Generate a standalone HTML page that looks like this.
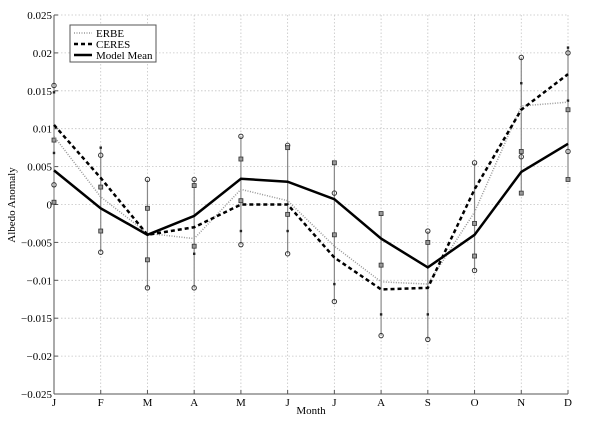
<!DOCTYPE html>
<html><head><meta charset="utf-8"><style>
body{margin:0;background:#fff}
svg text{font-family:"Liberation Serif",serif;fill:#000}
</style></head><body>
<svg id="s" width="600" height="428" xmlns="http://www.w3.org/2000/svg"></svg>
<script>
const L=54,R=568,T=15,B=394;
const X=i=>L+(R-L)*i/11, Y=v=>T+(0.025-v)/0.05*(B-T);
let h='';
for(let i=1;i<11;i++)h+=`<line x1="${X(i)}" y1="${T}" x2="${X(i)}" y2="${B}" stroke="#c4c4c4" stroke-width="0.8" stroke-dasharray="1.5,2"/>`;
for(let k=-4;k<=4;k++){const y=Y(k*0.005);h+=`<line x1="${L}" y1="${y}" x2="${R}" y2="${y}" stroke="#c4c4c4" stroke-width="0.8" stroke-dasharray="1.5,2"/>`;}
h+=`<line x1="${R}" y1="${T}" x2="${R}" y2="${B}" stroke="#c4c4c4" stroke-width="0.8" stroke-dasharray="1.5,2"/><line x1="${L}" y1="${T}" x2="${R}" y2="${T}" stroke="#c4c4c4" stroke-width="0.8" stroke-dasharray="1.5,2"/>`;
h+=`<line x1="${L}" y1="${T}" x2="${L}" y2="${B}" stroke="#555" stroke-width="1"/><line x1="${L}" y1="${B}" x2="${R}" y2="${B}" stroke="#555" stroke-width="1"/>`;
const yl=['\u22120.025','\u22120.02','\u22120.015','\u22120.01','\u22120.005','0','0.005','0.01','0.015','0.02','0.025'];
yl.forEach((t,k)=>{const y=Y(-0.025+k*0.005);h+=`<line x1="${L}" y1="${y}" x2="${L+4}" y2="${y}" stroke="#555"/><text x="${L-2}" y="${y+4}" font-size="11" text-anchor="end">${t}</text>`;});
'JFMAMJJASOND'.split('').forEach((m,i)=>{h+=`<line x1="${X(i)}" y1="${B}" x2="${X(i)}" y2="${B-4}" stroke="#555"/><text x="${X(i)}" y="${B+12}" font-size="11" text-anchor="middle">${m}</text>`;});
h+=`<text x="311" y="414" font-size="11" text-anchor="middle">Month</text>`;
h+=`<text transform="translate(15,205) rotate(-90)" font-size="11" text-anchor="middle">Albedo Anomaly</text>`;
const eb=[
[['c',.0157],['d',.0148],['s',.0085],['d',.0068],['c',.0026],['s',.0003]],
[['d',.0075],['c',.0065],['s',.0023],['s',-.0035],['c',-.0063]],
[['c',.0033],['s',-.0005],['s',-.0073],['c',-.011]],
[['c',.0033],['s',.0025],['s',-.0055],['d',-.0065],['c',-.011]],
[['c',.009],['s',.006],['s',.0005],['d',-.0035],['c',-.0053]],
[['c',.0078],['s',.0075],['s',-.0013],['d',-.0035],['c',-.0065]],
[['s',.0055],['c',.0015],['s',-.004],['d',-.0105],['c',-.0128]],
[['s',-.0012],['s',-.008],['d',-.0145],['c',-.0173]],
[['c',-.0035],['s',-.005],['d',-.0145],['c',-.0178]],
[['c',.0055],['s',-.0025],['s',-.0068],['c',-.0087]],
[['c',.0194],['d',.016],['s',.007],['c',.0063],['s',.0015]],
[['d',.0207],['c',.02],['d',.0137],['s',.0125],['c',.007],['s',.0033]]];
eb.forEach((a,i)=>{const v=a.map(p=>p[1]);const x=X(i);
h+=`<line x1="${x}" y1="${Y(Math.max(...v))}" x2="${x}" y2="${Y(Math.min(...v))}" stroke="#888" stroke-width="1.2"/>`;
a.forEach(([t,val])=>{const y=Y(val);
if(t=='c')h+=`<circle cx="${x}" cy="${y}" r="2.2" fill="none" stroke="#333" stroke-width="1"/>`;
else if(t=='s')h+=`<rect x="${x-2}" y="${y-2}" width="4" height="4" fill="#999" stroke="#333" stroke-width="0.8"/>`;
else h+=`<rect x="${x-1.2}" y="${y-1.2}" width="2.4" height="2.4" fill="#222"/>`;});});
const pl=(d,st)=>`<polyline fill="none" points="${d.map((v,i)=>X(i)+','+Y(v)).join(' ')}" ${st}/>`;
const erbe=[.009,.001,-.0038,-.0045,.002,.0005,-.0055,-.0102,-.0105,-.001,.013,.0135];
const ceres=[.0105,.0035,-.004,-.003,0,0,-.007,-.0112,-.011,.002,.0125,.0172];
const mm=[.0045,-.0005,-.004,-.0015,.0034,.003,.0007,-.0045,-.0083,-.004,.0043,.008];
h+=pl(erbe,'stroke="#999" stroke-width="1.5" stroke-dasharray="1,1.5"');
h+=pl(ceres,'stroke="#000" stroke-width="2.5" stroke-dasharray="4,3"');
h+=pl(mm,'stroke="#000" stroke-width="2.5"');
h+=`<rect x="70" y="25" width="86" height="37" fill="#fff" stroke="#555" stroke-width="1"/>`;
h+=`<line x1="74" y1="33" x2="92" y2="33" stroke="#999" stroke-width="1.5" stroke-dasharray="1,1.5"/><text x="96" y="37" font-size="11">ERBE</text>`;
h+=`<line x1="74" y1="44" x2="92" y2="44" stroke="#000" stroke-width="2.5" stroke-dasharray="4,3"/><text x="96" y="48" font-size="11">CERES</text>`;
h+=`<line x1="74" y1="55" x2="92" y2="55" stroke="#000" stroke-width="2.5"/><text x="96" y="59" font-size="11">Model Mean</text>`;
document.getElementById('s').innerHTML=h;
</script>
</body></html>
